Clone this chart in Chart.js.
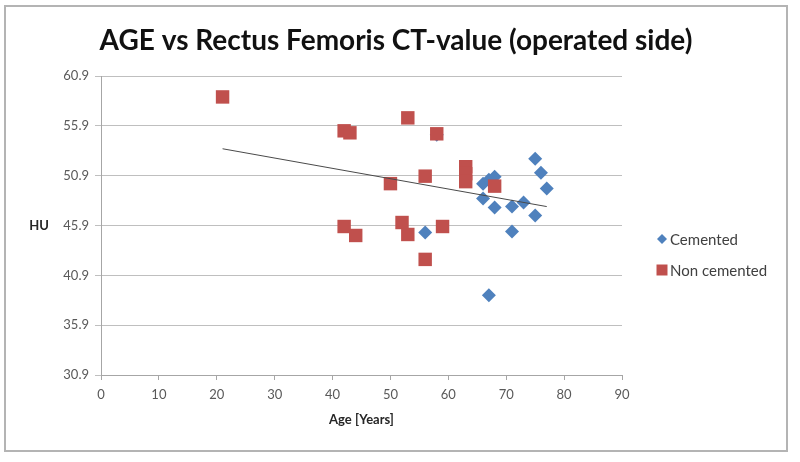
<!DOCTYPE html>
<html>
<head>
<meta charset="utf-8">
<script src="https://cdn.jsdelivr.net/npm/chart.js@4"></script>
<style>
  html, body { margin: 0; padding: 0; background: #fff; }
</style>
</head>
<body>
<canvas id="chart" width="800" height="462"></canvas>
<script>
// values
const cementedAge = [56, 58, 66, 67, 68, 66, 68, 71, 73, 75, 71, 75, 76, 77, 67];
const cementedHU  = [45.2, 55.0, 50.1, 50.5, 50.8, 48.6, 47.7, 47.8, 48.2, 46.9, 45.3, 52.6, 51.2, 49.6, 38.9];

const nonCementedAge = [21, 42, 43, 53, 58, 50, 56, 63, 63, 63, 68, 42, 44, 52, 53, 59, 56];
const nonCementedHU  = [58.8, 55.4, 55.2, 56.7, 55.1, 50.1, 50.85, 51.8, 51.1, 50.3, 49.85, 45.8, 44.9, 46.2, 45.0, 45.8, 42.5];

// linear trendline end points
const trendAge = [21, 77];
const trendHU  = [53.6, 47.8];

const yTicks = [30.9, 35.9, 40.9, 45.9, 50.9, 55.9, 60.9];

const chartTitle = 'AGE vs Rectus Femoris CT-value (operated side)';

const blue = '#4f81bd';
const red = '#c0504d';
const tickColor = '#595959';
const axisColor = '#a6a6a6';

function toPoints(xs, ys) {
    return xs.map((x, i) => ({ x: x, y: ys[i] }));
}

// frame, title, "HU" label and the legend on the right
const extras = {
    id: 'extras',
    beforeDraw(chart) {
        const ctx = chart.ctx;
        ctx.save();
        ctx.fillStyle = '#fff';
        ctx.fillRect(0, 0, chart.width, chart.height);
        ctx.strokeStyle = '#b4b4b4';
        ctx.lineWidth = 2;
        ctx.strokeRect(5, 6, 782, 445);
        ctx.restore();
    },
    afterDraw(chart) {
        const ctx = chart.ctx;
        const area = chart.chartArea;
        ctx.save();
        ctx.textAlign = 'center';
        ctx.textBaseline = 'middle';

        ctx.fillStyle = '#111';
        ctx.font = 'bold 28px Lato';
        ctx.fillText(chartTitle, 396, 41);

        ctx.fillStyle = '#262626';
        ctx.font = 'bold 13px Lato';
        ctx.fillText('HU', 39, (area.top + area.bottom) / 2);

        // legend
        const items = [
            { ds: chart.data.datasets[0], y: 239 },
            { ds: chart.data.datasets[1], y: 270 }
        ];
        ctx.font = '15px Lato';
        ctx.textAlign = 'left';
        items.forEach(item => {
            const cx = 662;
            ctx.fillStyle = item.ds.backgroundColor;
            ctx.beginPath();
            if (item.ds.pointStyle === 'rectRot') {
                ctx.moveTo(cx, item.y - 5);
                ctx.lineTo(cx + 5, item.y);
                ctx.lineTo(cx, item.y + 5);
                ctx.lineTo(cx - 5, item.y);
                ctx.closePath();
            } else {
                ctx.rect(cx - 5.5, item.y - 5.5, 11, 11);
            }
            ctx.fill();
            ctx.fillStyle = '#404040';
            ctx.fillText(item.ds.label, 670, item.y + 1);
        });
        ctx.restore();
    }
};

new Chart(document.getElementById('chart'), {
    type: 'scatter',
    data: {
        datasets: [
            {
                label: 'Cemented',
                data: toPoints(cementedAge, cementedHU),
                pointStyle: 'rectRot',
                pointRadius: 7,
                backgroundColor: blue,
                borderColor: blue,
                borderWidth: 0,
                order: 2
            },
            {
                label: 'Non cemented',
                data: toPoints(nonCementedAge, nonCementedHU),
                pointStyle: 'rect',
                pointRadius: 9.5,
                backgroundColor: red,
                borderColor: red,
                borderWidth: 0,
                order: 1
            },
            {
                label: 'Trend',
                data: toPoints(trendAge, trendHU),
                showLine: true,
                pointRadius: 0,
                borderColor: '#4a4a4a',
                borderWidth: 1,
                order: 0
            }
        ]
    },
    options: {
        responsive: false,
        animation: false,
        layout: {
            // top space is left for the title drawn by the plugin
            padding: { left: 0, right: 178, top: 76, bottom: 0 }
        },
        scales: {
            x: {
                type: 'linear',
                min: 0,
                max: 90,
                afterFit: s => { s.height = 87; },
                ticks: {
                    stepSize: 10,
                    color: tickColor,
                    font: { family: 'Lato', size: 13 },
                    padding: 7
                },
                grid: {
                    drawOnChartArea: false,
                    tickLength: 5,
                    color: axisColor
                },
                border: { color: axisColor },
                title: {
                    display: true,
                    text: 'Age [Years]',
                    color: '#262626',
                    font: { family: 'Lato', size: 13, weight: 'bold' },
                    padding: { top: 0, bottom: 34 }
                }
            },
            y: {
                min: 30.9,
                max: 60.9,
                afterFit: s => { s.width = 101; },
                afterBuildTicks: s => { s.ticks = yTicks.map(v => ({ value: v })); },
                ticks: {
                    color: tickColor,
                    font: { family: 'Lato', size: 13 },
                    padding: 6,
                    callback: v => v.toFixed(1)
                },
                grid: {
                    color: '#bfbfbf',
                    tickLength: 6
                },
                border: { color: axisColor }
            }
        },
        plugins: {
            legend: { display: false },
            tooltip: { enabled: false },
            title: { display: false }
        }
    },
    plugins: [extras]
});
</script>
</body>
</html>
